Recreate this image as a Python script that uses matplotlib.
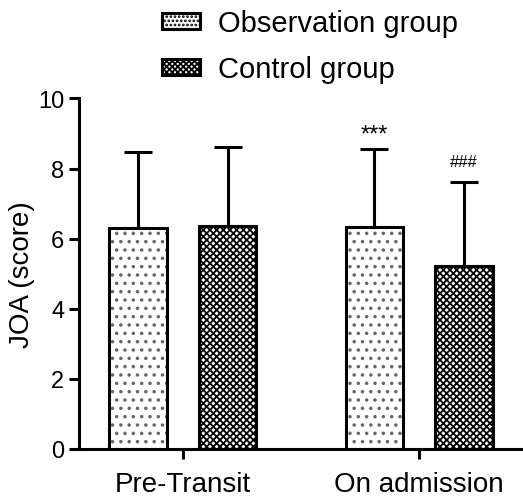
import numpy as np
import matplotlib
matplotlib.use("Agg")
import matplotlib.pyplot as plt
from matplotlib.patches import Patch

plt.rcParams["font.family"] = ["Liberation Sans", "DejaVu Sans"]
plt.rcParams["hatch.linewidth"] = 1.3

categories = ["Pre-Transit", "On admission"]
groups = ["Observation group", "Control group"]
obs_mean = [6.30, 6.34]
obs_sd = [2.16, 2.22]
ctrl_mean = [6.37, 5.23]
ctrl_sd = [2.25, 2.38]
obs_marks = ["", "***"]
ctrl_marks = ["", "###"]

fig = plt.figure(figsize=(5.23, 5.02), dpi=100)
ax = fig.add_axes([0.151, 0.1036, 0.849, 0.6982])

x = np.arange(len(categories))
w = 0.245
off = 0.189
lw = 2.2

# observation bars: grey dots underneath, black outline on top
ax.bar(x - off, obs_mean, w, color="white", edgecolor="#666666", linewidth=0,
       hatch="..", zorder=2)
ax.bar(x - off, obs_mean, w, fill=False, edgecolor="black", linewidth=lw, zorder=3)
ax.errorbar(x - off, obs_mean, yerr=[np.zeros(len(x)), obs_sd], fmt="none",
            ecolor="black", elinewidth=lw, capsize=10, capthick=lw, zorder=1)

# control bars (checkered)
ax.bar(x + off, ctrl_mean, w, color="white", edgecolor="black", linewidth=lw,
       hatch="xxxxx", zorder=2)
ax.errorbar(x + off, ctrl_mean, yerr=[np.zeros(len(x)), ctrl_sd], fmt="none",
            ecolor="black", elinewidth=lw, capsize=10, capthick=lw, zorder=1)

for i in range(len(x)):
    if obs_marks[i]:
        ax.text(x[i] - off, obs_mean[i] + obs_sd[i] + 0.42, obs_marks[i],
                ha="center", va="center", fontsize=17)
    if ctrl_marks[i]:
        ax.text(x[i] + off, ctrl_mean[i] + ctrl_sd[i] + 0.6, ctrl_marks[i],
                ha="center", va="center", fontsize=12)

ax.set_xlim(-0.44, 1.44)
ax.set_ylim(0, 10)
ax.set_yticks([0, 2, 4, 6, 8, 10])
ax.set_xticks(x)
ax.set_xticklabels(categories, fontsize=20)
ax.tick_params(axis="y", labelsize=17, width=lw, length=7)
ax.tick_params(axis="x", width=lw, length=7, pad=9)
ax.set_ylabel("JOA (score)", fontsize=20, labelpad=2)
ax.spines["top"].set_visible(False)
ax.spines["right"].set_visible(False)
ax.spines["left"].set_linewidth(lw)
ax.spines["bottom"].set_linewidth(lw)

handles = [Patch(facecolor="white", edgecolor="black", linewidth=lw, hatch="...."),
           Patch(facecolor="white", edgecolor="black", linewidth=lw, hatch="xxxxxx")]
fig.legend(handles, groups, loc="upper left", bbox_to_anchor=(0.27, 1.02),
           frameon=False, fontsize=21, handlelength=1.3, handleheight=0.45,
           handletextpad=0.62, labelspacing=0.62, borderpad=0.2)

fig.savefig("out.png", dpi=100)
